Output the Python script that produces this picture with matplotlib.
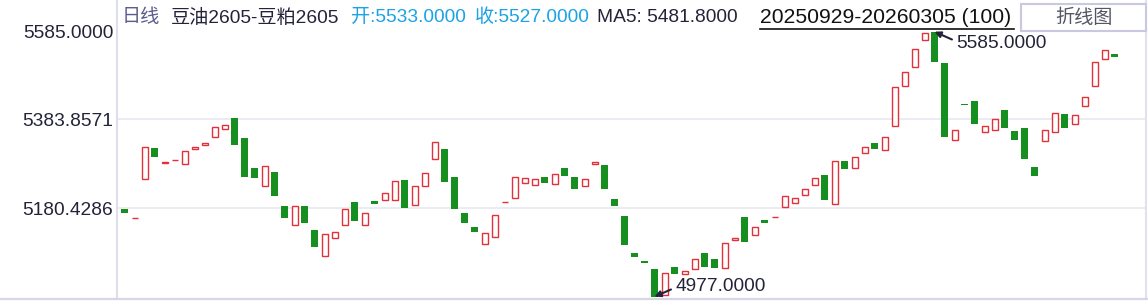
import matplotlib
matplotlib.use('Agg')
import matplotlib.pyplot as plt
from matplotlib.lines import Line2D
from matplotlib.patches import Rectangle
import numpy as np

plt.rcParams['font.family'] = ['Liberation Sans', 'Noto Sans CJK SC', 'DejaVu Sans']

# daily candles 20250929-20260305, open / close
opens = [5178, 5158, 5246, 5318, 5283, 5290, 5281, 5315, 5324, 5343,
         5361, 5387, 5341, 5272, 5230, 5263, 5185, 5141, 5185, 5130,
         5070, 5111, 5141, 5194, 5141, 5197, 5198, 5198, 5245, 5187,
         5230, 5292, 5316, 5252, 5169, 5137, 5097, 5113, 5194, 5203,
         5237, 5233, 5252, 5235, 5272, 5252, 5230, 5282, 5279, 5201,
         5162, 5077, 5059, 5041, 4980, 5045, 5028, 5040, 5077, 5064,
         5042, 5106, 5160, 5118, 5153, 5161, 5182, 5191, 5210, 5233,
         5256, 5189, 5288, 5272, 5306, 5330, 5313, 5368, 5460, 5505,
         5565, 5585, 5513, 5336, 5420, 5426, 5354, 5359, 5405, 5357,
         5364, 5275, 5334, 5356, 5396, 5373, 5415, 5461, 5522, 5533]
closes = [5170, 5158, 5320, 5298, 5286, 5290, 5311, 5320, 5329, 5366,
          5370, 5326, 5252, 5250, 5276, 5209, 5158, 5184, 5145, 5092,
          5121, 5125, 5178, 5151, 5169, 5190, 5214, 5242, 5181, 5231,
          5261, 5331, 5241, 5178, 5147, 5126, 5123, 5164, 5194, 5251,
          5249, 5246, 5239, 5259, 5255, 5223, 5246, 5286, 5225, 5184,
          5096, 5067, 5055, 4977, 5031, 5028, 5035, 5064, 5046, 5044,
          5100, 5112, 5103, 5137, 5147, 5161, 5207, 5203, 5223, 5249,
          5200, 5288, 5271, 5297, 5320, 5317, 5343, 5458, 5493, 5545,
          5582, 5516, 5344, 5359, 5417, 5374, 5368, 5384, 5365, 5337,
          5294, 5255, 5359, 5398, 5365, 5394, 5435, 5516, 5542, 5527]

y_ticks = [5585.0, 5383.8571, 5180.4286]
y_labels = ['5585.0000', '5383.8571', '5180.4286']
high_val, high_idx = 5585.0, 81
low_val, low_idx = 4977.0, 53

W, H = 1148, 301
RED = '#e3303a'
GREEN = '#178f20'
DARK = '#23233a'
FS = 13.8

fig = plt.figure(figsize=(W / 100, H / 100), dpi=100)


def fx(x):
    return x / W


def fy(y):
    return 1 - y / H


ax = fig.add_axes([fx(116.5), fy(298.5), (1145.5 - 116.5) / W, 298.5 / H])

# price scale: 5585 at pixel row 31.7, 2.2943 per pixel
ax.set_ylim(5585 - 2.2943 * (298.5 - 31.7), 5585 + 2.2943 * 31.7)
ax.set_xlim(-0.8, 102.1)

for v in y_ticks[1:]:
    ax.axhline(v, color='#e6e6f0', lw=1.1, zorder=0)

idx = np.arange(len(opens))
o = np.array(opens, dtype=float)
c = np.array(closes, dtype=float)
up = c >= o
down = ~up

ax.bar(idx[down], (o - c)[down], bottom=c[down], width=0.68,
       color=GREEN, linewidth=0, zorder=2)
ax.bar(idx[up], (c - o)[up], bottom=o[up], width=0.6,
       facecolor='white', edgecolor=RED, linewidth=1.0, zorder=2)

ax.annotate(f'{high_val:.4f}', xy=(high_idx, high_val), xytext=(21.5, -11.3),
            textcoords='offset pixels', ha='left', va='center', fontsize=FS,
            color=DARK, annotation_clip=False,
            arrowprops=dict(arrowstyle='-|>', color=DARK, lw=1.5,
                            mutation_scale=9, relpos=(0, 0.6),
                            shrinkA=1, shrinkB=0))
ax.annotate(f'{low_val:.4f}', xy=(low_idx, low_val), xytext=(20.5, 10.7),
            textcoords='offset pixels', ha='left', va='center', fontsize=FS,
            color=DARK, annotation_clip=False,
            arrowprops=dict(arrowstyle='-|>', color=DARK, lw=1.5,
                            mutation_scale=9, relpos=(0, 0.4),
                            shrinkA=1, shrinkB=0))

ax.set_xticks([])
ax.set_yticks(y_ticks)
ax.set_yticklabels(y_labels, fontsize=FS, color=DARK)
ax.tick_params(axis='y', length=0, pad=2.3)
ax.spines['top'].set_visible(False)
ax.spines['bottom'].set_visible(False)
ax.spines['left'].set_color('#dedeec')
ax.spines['left'].set_linewidth(1.5)
ax.spines['right'].set_color('#e2e2ee')
ax.spines['right'].set_linewidth(1.5)

# bottom rule across the whole width
fig.add_artist(Line2D([0, 1], [fy(298.8), fy(298.8)], color='#d6d6e6', lw=1.6))

# header
ty = fy(17.5)
fig.text(fx(122), ty, '日线', fontsize=FS, color='#5c5c8e', va='center')
fig.text(fx(171), ty, '豆油2605-豆粕2605', fontsize=FS, color=DARK, va='center')
fig.text(fx(351), ty, '开:5533.0000', fontsize=FS, color='#1ba3e6', va='center')
fig.text(fx(475), ty, '收:5527.0000', fontsize=FS, color='#1ba3e6', va='center')
fig.text(fx(597), ty, 'MA5: 5481.8000', fontsize=FS, color=DARK, va='center')
fig.text(fx(760), ty, '20250929-20260305 (100)', fontsize=15.2, color='#111111',
         va='center')
fig.add_artist(Line2D([fx(760), fx(1014)], [fy(29), fy(29)], color='#111111', lw=1.2))

fig.add_artist(Rectangle((fx(1021), fy(31)), (1145.5 - 1021) / W, 27.5 / H,
                         transform=fig.transFigure, facecolor='white',
                         edgecolor='#c8c8e2', lw=1.5))
fig.text(fx(1084), ty, '折线图', fontsize=FS, color='#555566', ha='center', va='center')

fig.savefig('out.png', dpi=100)
